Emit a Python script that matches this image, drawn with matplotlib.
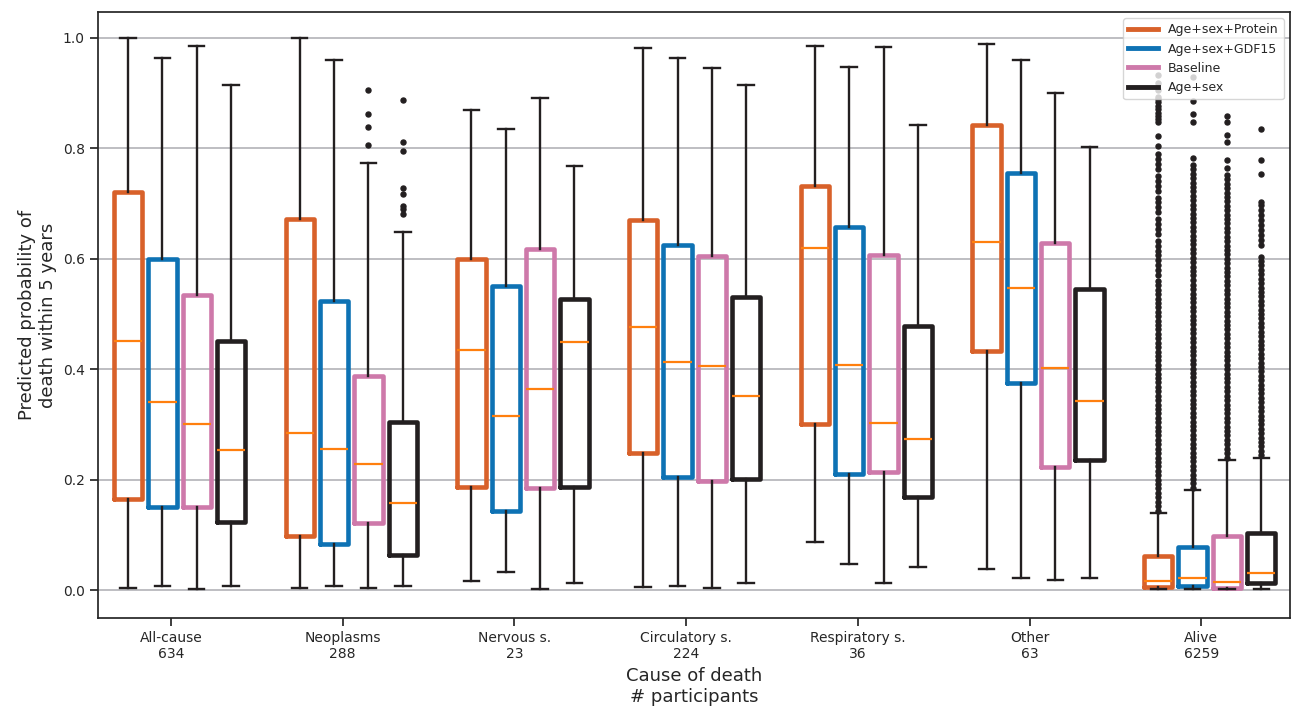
import matplotlib
matplotlib.use("Agg")
import matplotlib.pyplot as plt
from matplotlib.lines import Line2D

# ---------------- data ----------------
groups = ["All-cause", "Neoplasms", "Nervous s.", "Circulatory s.",
          "Respiratory s.", "Other", "Alive"]
n_participants = [634, 288, 23, 224, 36, 63, 6259]
models = ["Age+sex+Protein", "Age+sex+GDF15", "Baseline", "Age+sex"]
colors = ["#D8612A", "#0E72B4", "#CE79AA", "#231F20"]

# Age+sex+Protein
prot_whislo = [0.003, 0.003, 0.017, 0.005, 0.087, 0.038, 0.002]
prot_q1     = [0.165, 0.097, 0.187, 0.249, 0.300, 0.433, 0.006]
prot_med    = [0.451, 0.284, 0.434, 0.476, 0.619, 0.630, 0.016]
prot_q3     = [0.721, 0.673, 0.600, 0.671, 0.731, 0.842, 0.062]
prot_whishi = [1.000, 1.000, 0.870, 0.981, 0.986, 0.989, 0.140]

# Age+sex+GDF15
gdf_whislo = [0.007, 0.008, 0.032, 0.0075, 0.047, 0.021, 0.001]
gdf_q1     = [0.150, 0.084, 0.143, 0.205, 0.210, 0.375, 0.007]
gdf_med    = [0.341, 0.256, 0.315, 0.413, 0.408, 0.547, 0.021]
gdf_q3     = [0.599, 0.523, 0.550, 0.625, 0.658, 0.755, 0.078]
gdf_whishi = [0.964, 0.960, 0.836, 0.963, 0.947, 0.960, 0.181]

# Baseline
base_whislo = [0.001, 0.003, 0.002, 0.003, 0.012, 0.018, 0.002]
base_q1     = [0.150, 0.122, 0.184, 0.198, 0.213, 0.222, 0.003]
base_med    = [0.301, 0.228, 0.365, 0.406, 0.302, 0.403, 0.014]
base_q3     = [0.535, 0.387, 0.618, 0.605, 0.607, 0.629, 0.098]
base_whishi = [0.985, 0.774, 0.891, 0.946, 0.984, 0.900, 0.236]

# Age+sex
as_whislo = [0.007, 0.007, 0.012, 0.012, 0.042, 0.022, 0.002]
as_q1     = [0.124, 0.063, 0.186, 0.202, 0.168, 0.235, 0.012]
as_med    = [0.254, 0.157, 0.450, 0.352, 0.274, 0.342, 0.030]
as_q3     = [0.451, 0.305, 0.527, 0.531, 0.479, 0.545, 0.104]
as_whishi = [0.915, 0.648, 0.769, 0.915, 0.842, 0.803, 0.240]

# outliers (thousandths)
neo_base_fliers = [905, 862, 838, 807]
neo_as_fliers = [887, 811, 796, 728, 718, 696, 690, 681]

alive_prot_fliers = [
    144, 152, 160, 168, 176, 184, 192, 200, 208, 216, 224, 232, 240, 248, 256,
    264, 272, 280, 288, 296, 304, 312, 320, 328, 336, 344, 352, 360, 368, 376,
    384, 392, 400, 408, 416, 424, 432, 440, 448, 456, 464, 472, 480, 488, 496,
    504, 512, 520, 528, 536, 544, 552, 560, 570, 579, 588, 597, 606, 615, 624,
    633, 645, 654, 663, 672, 684, 693, 702, 711, 723, 732, 741, 750, 762, 771,
    780, 790, 804, 823, 848, 853, 859, 865, 871, 877, 884, 890, 894, 905, 918,
    933]
alive_gdf_fliers = [
    185, 193, 201, 209, 217, 225, 233, 241, 249, 257, 265, 273, 281, 289, 297,
    305, 313, 321, 329, 337, 345, 353, 361, 369, 377, 385, 393, 401, 409, 417,
    425, 433, 441, 449, 457, 465, 473, 481, 489, 497, 505, 513, 521, 529, 537,
    545, 553, 561, 570, 578, 586, 594, 602, 610, 618, 626, 634, 642, 650, 658,
    666, 674, 682, 690, 698, 706, 714, 722, 730, 738, 746, 754, 762, 770, 782,
    848, 862, 885, 930]
alive_base_fliers = [
    240, 248, 256, 264, 272, 280, 288, 296, 304, 312, 320, 328, 336, 344, 352,
    360, 368, 376, 384, 392, 400, 408, 416, 424, 432, 440, 448, 456, 464, 472,
    480, 488, 496, 504, 512, 520, 528, 536, 544, 552, 560, 568, 576, 584, 592,
    600, 608, 616, 624, 632, 640, 648, 656, 664, 672, 680, 688, 696, 704, 712,
    720, 728, 736, 744, 752, 765, 779, 811, 825, 848, 859]
alive_as_fliers = [
    244, 252, 260, 268, 276, 284, 292, 300, 308, 316, 324, 332, 340, 348, 356,
    364, 372, 380, 388, 396, 404, 412, 420, 428, 436, 444, 452, 460, 468, 476,
    484, 492, 500, 508, 516, 524, 532, 540, 548, 556, 564, 572, 580, 588, 596,
    604, 625, 634, 643, 652, 661, 670, 679, 688, 697, 703, 754, 779, 836]

empty = []
prot_fliers = [empty, empty, empty, empty, empty, empty, alive_prot_fliers]
gdf_fliers = [empty, empty, empty, empty, empty, empty, alive_gdf_fliers]
base_fliers = [empty, neo_base_fliers, empty, empty, empty, empty, alive_base_fliers]
as_fliers = [empty, neo_as_fliers, empty, empty, empty, empty, alive_as_fliers]

series = [
    (prot_whislo, prot_q1, prot_med, prot_q3, prot_whishi, prot_fliers),
    (gdf_whislo, gdf_q1, gdf_med, gdf_q3, gdf_whishi, gdf_fliers),
    (base_whislo, base_q1, base_med, base_q3, base_whishi, base_fliers),
    (as_whislo, as_q1, as_med, as_q3, as_whishi, as_fliers),
]
offsets = [-0.25, -0.05, 0.15, 0.35]

# ---------------- plot ----------------
dark = "#262626"
plt.rcParams.update({
    "font.family": ["DejaVu Sans"],
    "text.color": dark,
    "axes.labelcolor": dark,
    "xtick.color": dark,
    "ytick.color": dark,
})

W, H = 1293, 716
fig = plt.figure(figsize=(W / 100, H / 100), dpi=100)
ax = fig.add_axes([98 / W, 1 - 618 / H, (1290 - 98) / W, (618 - 12) / H])

wcol = "#231F20"
for k, (wlo, q1, med, q3, whi, fl) in enumerate(series):
    stats = []
    for g in range(len(groups)):
        stats.append(dict(med=med[g], q1=q1[g], q3=q3[g], whislo=wlo[g],
                          whishi=whi[g], fliers=[v / 1000 for v in fl[g]]))
    pos = [g + offsets[k] for g in range(len(groups))]
    ax.bxp(stats, positions=pos, widths=0.165, capwidths=0.09,
           showfliers=True, manage_ticks=False,
           boxprops=dict(color=colors[k], linewidth=3.3,
                         solid_joinstyle="round", solid_capstyle="round"),
           whiskerprops=dict(color=wcol, linewidth=1.7),
           capprops=dict(color=wcol, linewidth=1.7),
           medianprops=dict(color="#FF7F0E", linewidth=1.6),
           flierprops=dict(marker="o", markerfacecolor=wcol,
                           markeredgecolor=wcol, markersize=3.6,
                           linestyle="none"))

ax.set_xlim(-0.425, 6.517)
ax.set_ylim(-0.0507, 1.0471)
ax.set_xticks(range(len(groups)))
ax.set_xticklabels([f"{g}\n{n}" for g, n in zip(groups, n_participants)],
                   fontsize=10)
ax.set_yticks([0.0, 0.2, 0.4, 0.6, 0.8, 1.0])
ax.set_yticklabels(["0.0", "0.2", "0.4", "0.6", "0.8", "1.0"], fontsize=10)
ax.tick_params(axis="both", length=6, width=1.25)
ax.yaxis.grid(True, color="#b9b9bd", linewidth=1.3)
ax.set_axisbelow(True)
for s in ax.spines.values():
    s.set_color(dark)
    s.set_linewidth(1.25)

ax.set_xlabel("Cause of death\n# participants", fontsize=13)
ax.set_ylabel("Predicted probability of\ndeath within 5 years", fontsize=13)

handles = [Line2D([0], [0], color=c, linewidth=3.5) for c in colors]
leg = ax.legend(handles, models, loc="upper right", fontsize=9,
                framealpha=0.8, handlelength=2.4, fancybox=True)
leg.get_frame().set_edgecolor("#cccccc")

fig.savefig("out.png", dpi=100)
